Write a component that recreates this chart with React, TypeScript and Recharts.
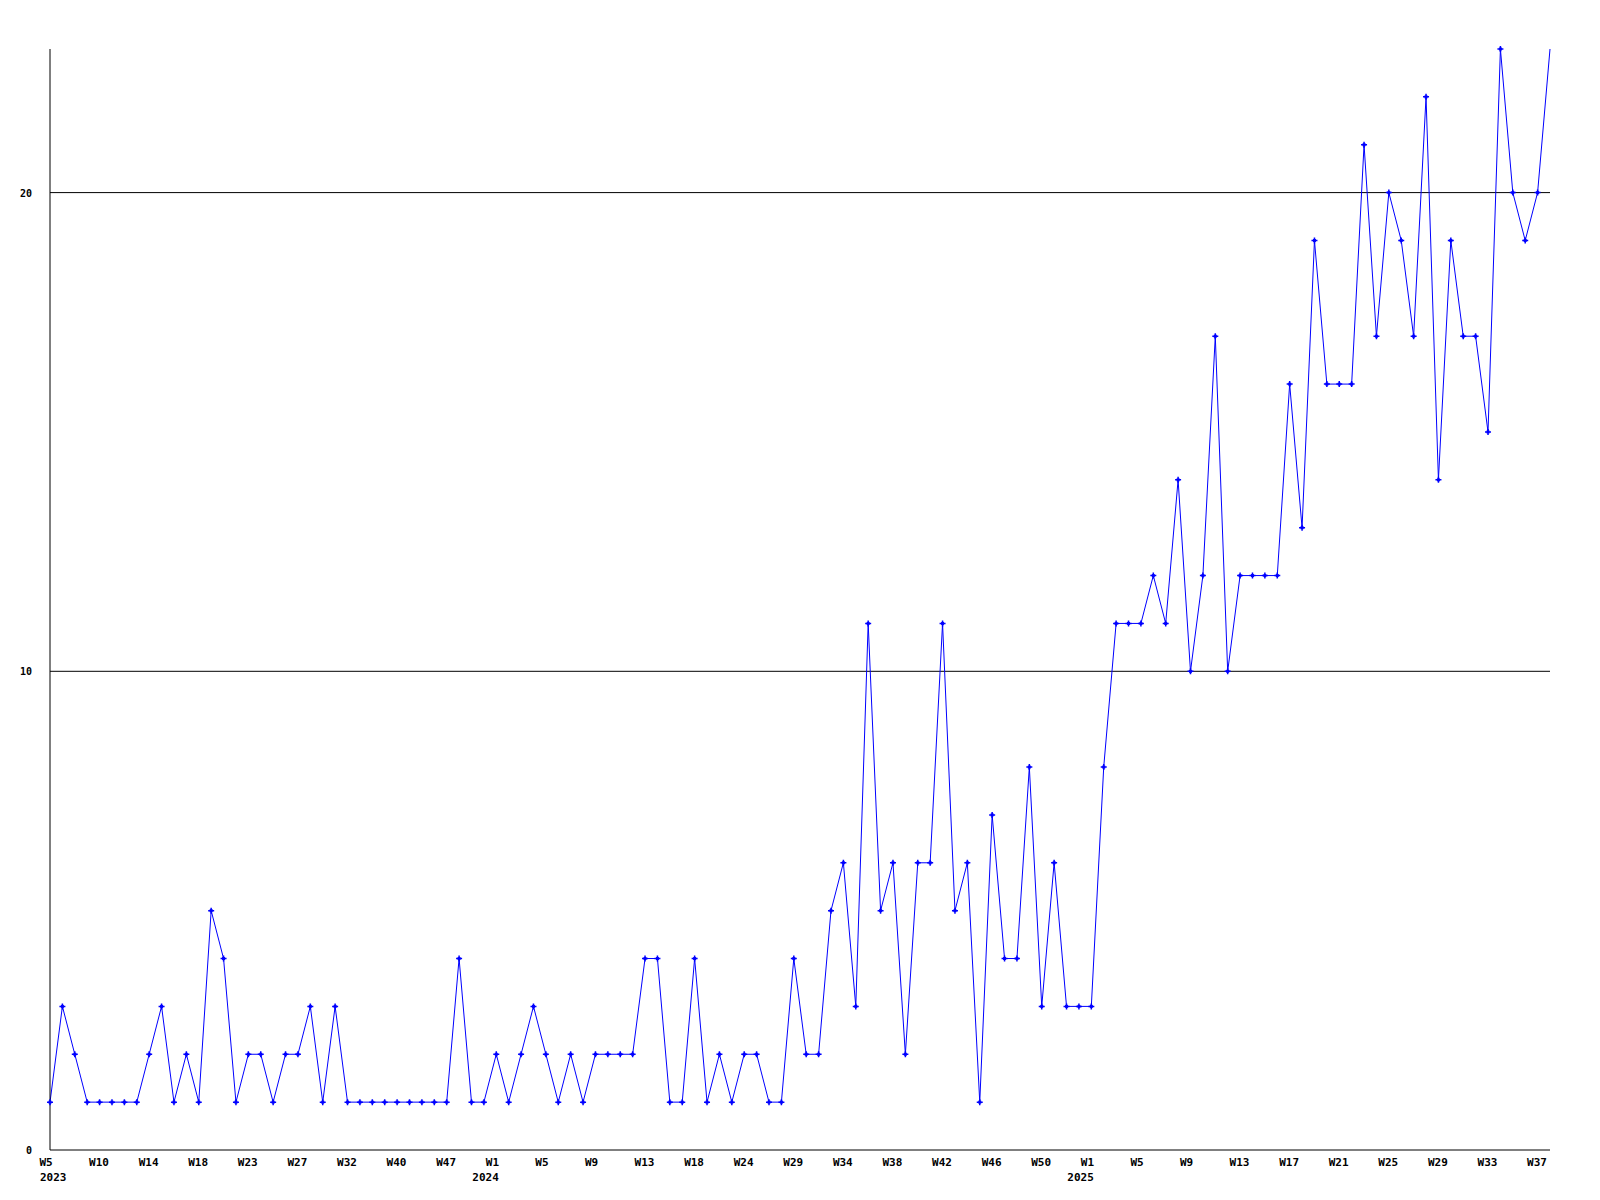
import React from "react";
import { LineChart, Line, XAxis, YAxis, CartesianGrid } from "recharts";

// week labels per year (only every 4th one is shown on the axis)
const weeks2023 = [
  "W5", "W6", "W7", "W9", "W10", "W11", "W12", "W13", "W14", "W15", "W16", "W17",
  "W18", "W19", "W21", "W22", "W23", "W24", "W25", "W26", "W27", "W28", "W30", "W31",
  "W32", "W34", "W36", "W38", "W40", "W42", "W44", "W46", "W47", "W49", "W50", "W52",
];
const weeks2024 = [
  "W1", "W2", "W3", "W4", "W5", "W6", "W7", "W8", "W9", "W10", "W11", "W12",
  "W13", "W15", "W16", "W17", "W18", "W19", "W21", "W23", "W24", "W25", "W27", "W28",
  "W29", "W30", "W32", "W33", "W34", "W35", "W36", "W37", "W38", "W39", "W40", "W41",
  "W42", "W43", "W44", "W45", "W46", "W47", "W48", "W49", "W50", "W51", "W52", "W53",
];
const weeks2025 = [
  "W1", "W2", "W3", "W4", "W5", "W6", "W7", "W8", "W9", "W10", "W11", "W12", "W13",
  "W14", "W15", "W16", "W17", "W18", "W19", "W20", "W21", "W22", "W23", "W24", "W25",
  "W26", "W27", "W28", "W29", "W30", "W31", "W32", "W33", "W34", "W35", "W36", "W37", "W38",
];
const years = ["2023", "2024", "2025"];

const counts = [
  1, 3, 2, 1, 1, 1, 1, 1, 2, 3, 1, 2, 1, 5, 4, 1, 2, 2, 1, 2, 2, 3, 1, 3, 1,
  1, 1, 1, 1, 1, 1, 1, 1, 4, 1, 1, 2, 1, 2, 3, 2, 1, 2, 1, 2, 2, 2, 2, 4, 4,
  1, 1, 4, 1, 2, 1, 2, 2, 1, 1, 4, 2, 2, 5, 6, 3, 11, 5, 6, 2, 6, 6, 11, 5, 6,
  1, 7, 4, 4, 8, 3, 6, 3, 3, 3, 8, 11, 11, 11, 12, 11, 14, 10, 12, 17, 10, 12, 12, 12, 12,
  16, 13, 19, 16, 16, 16, 21, 17, 20, 19, 17, 22, 14, 19, 17, 17, 15, 23, 20, 19, 20, 23,
];

const yTicks = [0, 10, 20];

const data: { idx: number; week: string; year: string; count: number }[] = [];
[weeks2023, weeks2024, weeks2025].forEach((ws, y) =>
  ws.forEach((w, j) => {
    const i = data.length;
    data.push({ idx: i, week: w, year: j === 0 ? years[y] : "", count: counts[i] });
  })
);

const FONT = "'DejaVu Sans Mono', 'Liberation Mono', monospace";

const XTick = (props: any) => {
  const { x, y, payload } = props;
  const d = data[payload.value];
  if (!d) return null;
  return (
    <g>
      <text x={x - 10.5} y={y + 16} textAnchor="start" fontFamily={FONT} fontSize={11} fontWeight="bold" fill="#000">
        {d.week}
      </text>
      {d.year && (
        <text x={Math.max(x - 24, 32)} y={y + 31} textAnchor="start" fontFamily={FONT} fontSize={11} fontWeight="bold" fill="#000">
          {d.year}
        </text>
      )}
    </g>
  );
};

const YTick = (props: any) => {
  const { x, y, payload } = props;
  return (
    <text x={x} y={y + 4} textAnchor="end" fontFamily={FONT} fontSize={10} fontWeight="bold" fill="#000">
      {payload.value}
    </text>
  );
};

const Marker = (props: any) => {
  const { cx, cy, index } = props;
  if (index === data.length - 1 || cx == null) return <g key={"d" + index} />;
  return (
    <g key={"d" + index}>
      <path
        d={`M${cx - 3},${cy} L${cx + 3},${cy} M${cx},${cy - 3} L${cx},${cy + 3}`}
        stroke="#0000ff"
        strokeWidth={1.5}
      />
      <rect x={cx - 1.5} y={cy - 1.5} width={3} height={3} fill="#0000ff" />
    </g>
  );
};

export default function App() {
  return (
    <LineChart
      width={1584}
      height={1184}
      data={data}
      margin={{ top: 41, right: 42, left: 0, bottom: 0 }}
    >
      {/* only the 10 and 20 lines, no frame at the top */}
      <CartesianGrid vertical={false} stroke="#000" horizontalValues={[10, 20]} />
      <XAxis
        dataKey="idx"
        type="category"
        interval={3}
        height={42}
        tickLine={false}
        tickSize={0}
        tickMargin={0}
        axisLine={{ stroke: "#000" }}
        tick={<XTick />}
      />
      <YAxis
        domain={[0, 23]}
        ticks={yTicks}
        width={42}
        tickLine={false}
        tickSize={0}
        tickMargin={18}
        axisLine={{ stroke: "#000" }}
        tick={<YTick />}
      />
      <Line
        type="linear"
        dataKey="count"
        stroke="#0000ff"
        strokeWidth={1}
        dot={Marker}
        activeDot={false}
        isAnimationActive={false}
      />
    </LineChart>
  );
}
